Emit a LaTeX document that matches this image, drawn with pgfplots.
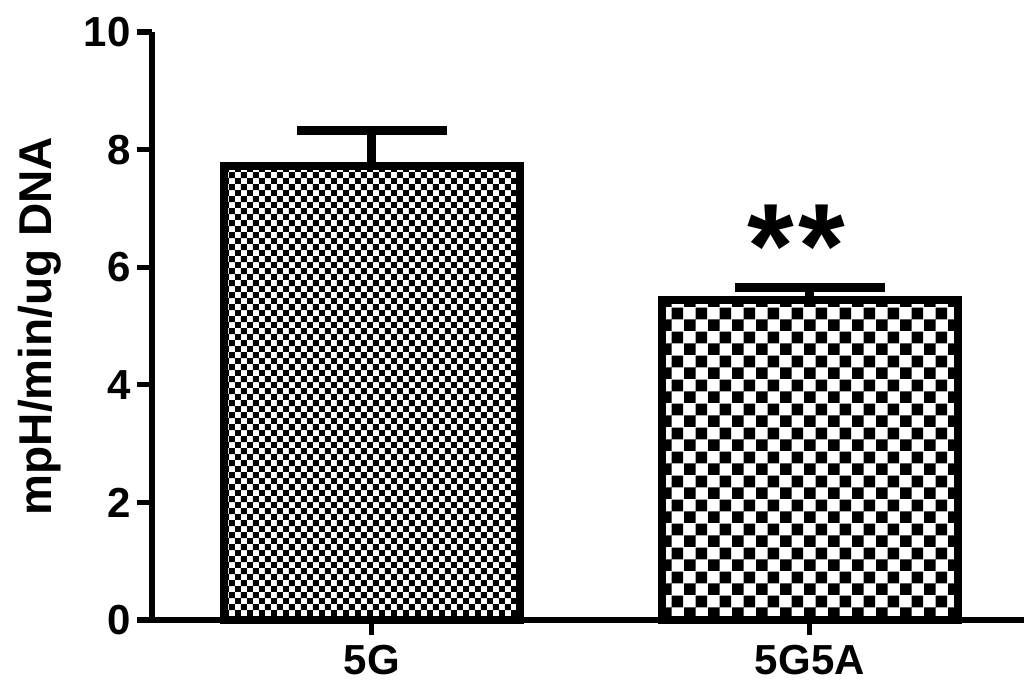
\documentclass[border=0pt]{standalone}
\usepackage{pgfplots}
\pgfplotsset{compat=1.18}
\usepackage{fontspec}
\setmainfont{Liberation Sans}
\usetikzlibrary{patterns}
\pgfdeclarepatternformonly{checkfine}{\pgfpointorigin}{\pgfpoint{6.2pt}{6.2pt}}{\pgfpoint{6.2pt}{6.2pt}}{%
  \pgfpathrectangle{\pgfpointorigin}{\pgfpoint{3.1pt}{3.1pt}}%
  \pgfpathrectangle{\pgfpoint{3.1pt}{3.1pt}}{\pgfpoint{3.1pt}{3.1pt}}%
  \pgfusepath{fill}}
\pgfdeclarepatternformonly{checkcoarse}{\pgfpointorigin}{\pgfpoint{11.8pt}{11.8pt}}{\pgfpoint{11.8pt}{11.8pt}}{%
  \pgfpathrectangle{\pgfpointorigin}{\pgfpoint{5.9pt}{5.9pt}}%
  \pgfpathrectangle{\pgfpoint{5.9pt}{5.9pt}}{\pgfpoint{5.9pt}{5.9pt}}%
  \pgfusepath{fill}}
\begin{document}
\begin{tikzpicture}
\useasboundingbox (-76pt,-35pt) rectangle (436pt,310pt);
\begin{axis}[
  scale only axis,
  width=436pt, height=294pt,
  at={(0,0)}, anchor=south west,
  xmin=-0.502, xmax=1.489,
  ymin=0, ymax=10,
  axis lines=left,
  axis line style={-, line width=2.6pt},
  clip=false,
  xtick={0,1},
  xticklabels={5G,5G5A},
  ytick={0,2,4,6,8,10},
  tick align=outside,
  major tick length=7.5pt,
  tick style={line width=2.6pt, black},
  font=\bfseries,
  /pgf/number format/assume math mode=true,
  yticklabel style={font=\fontsize{21}{21}\selectfont\bfseries, inner sep=0pt, xshift=-3pt},
  xticklabel style={font=\fontsize{21}{21}\selectfont\bfseries, inner sep=0pt, yshift=-5pt},
  ylabel={mpH/min/ug DNA},
  ylabel style={font=\fontsize{23}{23}\selectfont\bfseries, at={(axis description cs:0,0.5)}, anchor=center, yshift=56pt},
]
\addplot[ybar, bar width=148pt, bar shift=0pt, draw=black, line width=4pt, pattern=checkfine,
  error bars/.cd, y dir=plus, y explicit, error mark=|,
  error bar style={line width=4.5pt, black},
  error mark options={line width=4.5pt, mark size=37.5pt, black}]
  coordinates {(0,7.72) +- (0,0.60)};
\addplot[ybar, bar width=148pt, bar shift=0pt, draw=black, line width=4pt, pattern=checkcoarse,
  error bars/.cd, y dir=plus, y explicit, error mark=|,
  error bar style={line width=4.5pt, black},
  error mark options={line width=4.5pt, mark size=37.5pt, black}]
  coordinates {(1,5.44) +- (0,0.21)};
\node[anchor=base, inner sep=0pt, font=\fontsize{60}{60}\selectfont\bfseries] at (axis cs:0.97,5.66) {*\kern2pt*};
\end{axis}
\end{tikzpicture}
\end{document}
